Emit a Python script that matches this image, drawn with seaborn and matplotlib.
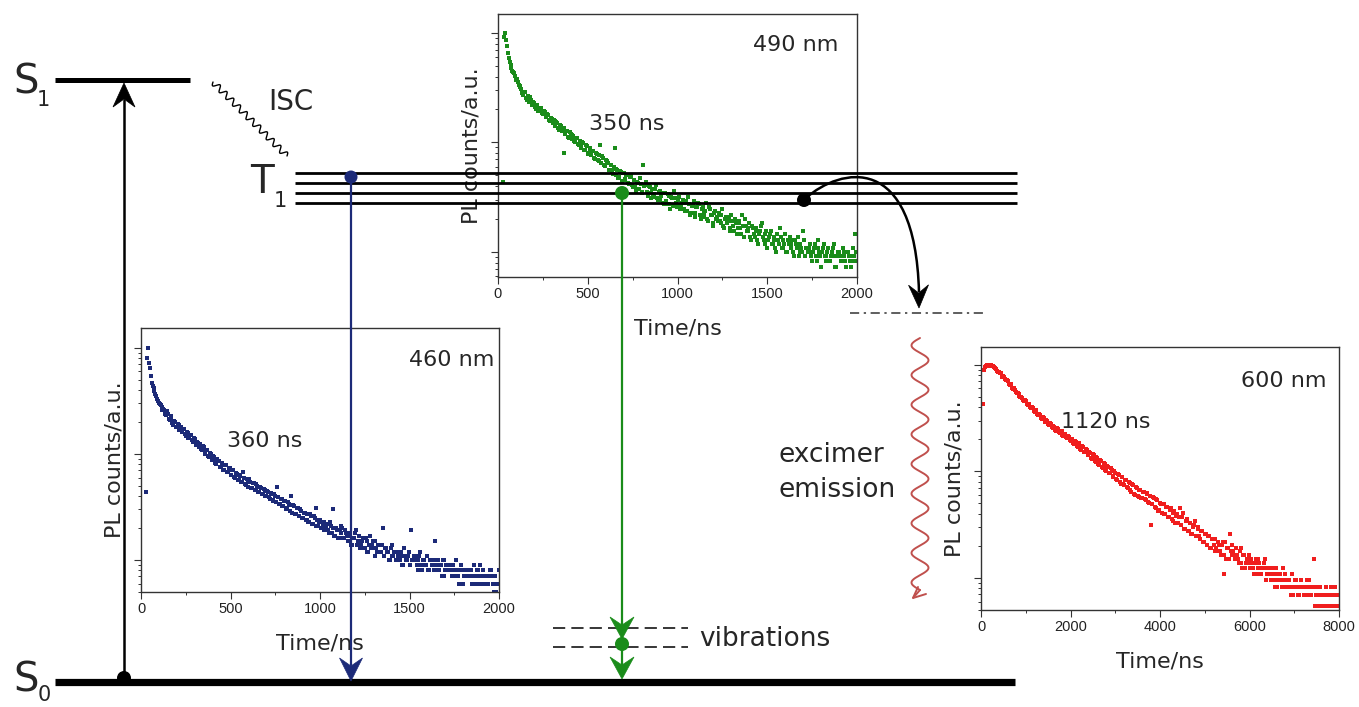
import numpy as np
import pandas as pd
import matplotlib
matplotlib.use("Agg")
import matplotlib.pyplot as plt
import seaborn as sns
from matplotlib.ticker import MultipleLocator, LogLocator, NullFormatter, FixedLocator
from matplotlib.patches import Circle, Polygon, PathPatch
from matplotlib.path import Path

# ─────────────────────────────────────────────
# Data (photon counts per channel)
# two interleaved channel sets per curve
# ─────────────────────────────────────────────
time_short = [
    30, 40, 50, 60, 70, 80, 90, 100, 110, 120,
    130, 140, 150, 160, 170, 180, 190, 200, 210, 220,
    230, 240, 250, 260, 270, 280, 290, 300, 310, 320,
    330, 340, 350, 360, 370, 380, 390, 400, 410, 420,
    430, 440, 450, 460, 470, 480, 490, 500, 510, 520,
    530, 540, 550, 560, 570, 580, 590, 600, 610, 620,
    630, 640, 650, 660, 670, 680, 690, 700, 710, 720,
    730, 740, 750, 760, 770, 780, 790, 800, 810, 820,
    830, 840, 850, 860, 870, 880, 890, 900, 910, 920,
    930, 940, 950, 960, 970, 980, 990, 1000, 1010, 1020,
    1030, 1040, 1050, 1060, 1070, 1080, 1090, 1100, 1110, 1120,
    1130, 1140, 1150, 1160, 1170, 1180, 1190, 1200, 1210, 1220,
    1230, 1240, 1250, 1260, 1270, 1280, 1290, 1300, 1310, 1320,
    1330, 1340, 1350, 1360, 1370, 1380, 1390, 1400, 1410, 1420,
    1430, 1440, 1450, 1460, 1470, 1480, 1490, 1500, 1510, 1520,
    1530, 1540, 1550, 1560, 1570, 1580, 1590, 1600, 1610, 1620,
    1630, 1640, 1650, 1660, 1670, 1680, 1690, 1700, 1710, 1720,
    1730, 1740, 1750, 1760, 1770, 1780, 1790, 1800, 1810, 1820,
    1830, 1840, 1850, 1860, 1870, 1880, 1890, 1900, 1910, 1920,
    1930, 1940, 1950, 1960, 1970, 1980, 1990, 2000,
]

time_short_b = [
    35, 45, 55, 65, 75, 85, 95, 105, 115, 125,
    135, 145, 155, 165, 175, 185, 195, 205, 215, 225,
    235, 245, 255, 265, 275, 285, 295, 305, 315, 325,
    335, 345, 355, 365, 375, 385, 395, 405, 415, 425,
    435, 445, 455, 465, 475, 485, 495, 505, 515, 525,
    535, 545, 555, 565, 575, 585, 595, 605, 615, 625,
    635, 645, 655, 665, 675, 685, 695, 705, 715, 725,
    735, 745, 755, 765, 775, 785, 795, 805, 815, 825,
    835, 845, 855, 865, 875, 885, 895, 905, 915, 925,
    935, 945, 955, 965, 975, 985, 995, 1005, 1015, 1025,
    1035, 1045, 1055, 1065, 1075, 1085, 1095, 1105, 1115, 1125,
    1135, 1145, 1155, 1165, 1175, 1185, 1195, 1205, 1215, 1225,
    1235, 1245, 1255, 1265, 1275, 1285, 1295, 1305, 1315, 1325,
    1335, 1345, 1355, 1365, 1375, 1385, 1395, 1405, 1415, 1425,
    1435, 1445, 1455, 1465, 1475, 1485, 1495, 1505, 1515, 1525,
    1535, 1545, 1555, 1565, 1575, 1585, 1595, 1605, 1615, 1625,
    1635, 1645, 1655, 1665, 1675, 1685, 1695, 1705, 1715, 1725,
    1735, 1745, 1755, 1765, 1775, 1785, 1795, 1805, 1815, 1825,
    1835, 1845, 1855, 1865, 1875, 1885, 1895, 1905, 1915, 1925,
    1935, 1945, 1955, 1965, 1975, 1985, 1995,
]

counts_490 = [
    48, 1100, 830, 650, 560, 490, 470, 410, 395, 360,
    340, 300, 318, 270, 262, 285, 240, 250, 222, 236,
    212, 228, 198, 210, 186, 195, 172, 181, 176, 155,
    165, 142, 156, 150, 89, 140, 124, 136, 118, 127,
    110, 122, 104, 98, 112, 94, 104, 86, 97, 84,
    92, 78, 86, 74, 104, 82, 68, 76, 71, 61,
    69, 57, 98, 63, 52, 60, 49, 58, 51, 55,
    46, 54, 43, 50, 40, 47, 52, 38, 68, 45,
    39, 44, 34, 41, 37, 45, 33, 40, 36, 31,
    38, 30, 36, 27, 34, 40, 31, 29, 35, 28,
    33, 26, 31, 35, 24, 29, 32, 25, 28, 30,
    22, 28, 25, 31, 21, 27, 24, 19, 26, 23,
    25, 20, 27, 18, 23, 21, 17, 24, 19, 22,
    16, 21, 18, 24, 15, 19, 17, 20, 14, 18,
    15, 18, 13, 17, 20, 14, 16, 12, 15, 17,
    13, 15, 11, 14, 18, 12, 14, 16, 11, 13,
    12, 14, 10, 13, 15, 11, 12, 17, 10, 12,
    11, 13, 9, 12, 10, 14, 11, 8, 12, 10,
    10, 12, 9, 11, 13, 8, 10, 11, 9, 12,
    10, 8, 11, 9, 10, 12, 16, 9,
]

counts_490_b = [
    1020, 940, 720, 600, 530, 480, 445, 415, 370, 352,
    312, 318, 281, 290, 255, 266, 257, 232, 240, 215,
    224, 205, 213, 190, 198, 178, 185, 166, 172, 168,
    149, 158, 139, 148, 131, 141, 122, 132, 129, 114,
    121, 106, 114, 100, 108, 93, 101, 88, 96, 92,
    80, 89, 76, 84, 72, 79, 67, 75, 71, 62,
    60, 66, 56, 62, 53, 59, 58, 50, 56, 47,
    53, 45, 50, 43, 48, 41, 46, 39, 44, 48,
    36, 43, 38, 35, 41, 34, 39, 33, 38, 30,
    32, 37, 30, 35, 29, 34, 28, 33, 27, 31,
    27, 32, 26, 30, 25, 29, 23, 28, 31, 24,
    27, 23, 26, 22, 28, 24, 20, 25, 22, 21,
    21, 24, 19, 22, 20, 23, 18, 21, 17, 20,
    18, 20, 16, 19, 22, 17, 18, 15, 19, 16,
    17, 14, 16, 19, 15, 13, 17, 14, 16, 13,
    14, 12, 16, 13, 15, 12, 13, 11, 14, 15,
    13, 11, 14, 12, 10, 13, 11, 14, 12, 11,
    12, 10, 11, 13, 9, 12, 10, 11, 13, 9,
    11, 9, 10, 12, 10, 8, 11, 10, 9, 11,
    9, 11, 10, 8, 9, 10, 11,
]

counts_460 = [
    44, 1000, 640, 470, 420, 365, 330, 300, 290, 262,
    262, 231, 240, 208, 214, 188, 199, 178, 186, 168,
    160, 171, 149, 158, 140, 152, 131, 138, 121, 128,
    124, 108, 117, 100, 108, 93, 99, 87, 94, 81,
    86, 75, 83, 71, 79, 68, 74, 64, 70, 61,
    66, 57, 63, 55, 67, 52, 58, 49, 55, 48,
    53, 46, 50, 44, 48, 42, 46, 40, 44, 38,
    42, 36, 40, 49, 34, 38, 32, 36, 30, 35,
    29, 40, 33, 27, 31, 26, 30, 25, 28, 24,
    27, 23, 26, 22, 25, 31, 21, 24, 20, 23,
    19, 22, 18, 21, 30, 17, 20, 16, 19, 21,
    16, 19, 17, 15, 18, 14, 16, 19, 15, 17,
    14, 16, 13, 15, 12, 17, 14, 13, 15, 12,
    14, 12, 20, 11, 13, 12, 10, 14, 11, 12,
    10, 12, 11, 9, 13, 10, 11, 9, 19, 10,
    11, 9, 10, 12, 8, 10, 9, 11, 8, 10,
    9, 15, 8, 10, 9, 7, 10, 8, 9, 8,
    9, 7, 8, 10, 7, 8, 9, 6, 8, 7,
    7, 8, 6, 9, 7, 8, 6, 7, 8, 6,
    7, 6, 8, 7, 5, 7, 6, 8,
]

counts_460_b = [
    800, 720, 540, 440, 390, 350, 318, 296, 275, 268,
    240, 252, 215, 226, 196, 205, 180, 192, 170, 178,
    171, 154, 160, 143, 151, 134, 141, 124, 131, 116,
    111, 118, 101, 109, 95, 102, 88, 96, 82, 89,
    85, 76, 82, 71, 78, 67, 74, 63, 70, 60,
    65, 57, 62, 54, 59, 51, 56, 58, 48, 53,
    46, 52, 44, 49, 42, 47, 40, 45, 39, 43,
    37, 42, 35, 39, 34, 38, 32, 36, 31, 34,
    33, 28, 32, 27, 31, 26, 29, 25, 28, 24,
    23, 27, 22, 26, 21, 24, 23, 20, 22, 19,
    21, 19, 23, 18, 20, 17, 19, 16, 18, 20,
    16, 18, 15, 17, 14, 16, 18, 14, 15, 13,
    15, 13, 16, 12, 14, 13, 15, 11, 13, 14,
    12, 14, 11, 13, 12, 10, 13, 11, 12, 10,
    11, 10, 12, 9, 11, 10, 12, 9, 10, 11,
    10, 8, 11, 9, 10, 9, 11, 8, 10, 9,
    8, 10, 9, 8, 9, 10, 7, 9, 8, 9,
    8, 9, 7, 8, 6, 9, 8, 7, 8, 7,
    7, 8, 7, 6, 8, 7, 9, 6, 7, 7,
    6, 7, 8, 6, 7, 5, 6,
]

time_long = [
    40, 80, 120, 160, 200, 240, 280, 320, 360, 400,
    440, 480, 520, 560, 600, 640, 680, 720, 760, 800,
    840, 880, 920, 960, 1000, 1040, 1080, 1120, 1160, 1200,
    1240, 1280, 1320, 1360, 1400, 1440, 1480, 1520, 1560, 1600,
    1640, 1680, 1720, 1760, 1800, 1840, 1880, 1920, 1960, 2000,
    2040, 2080, 2120, 2160, 2200, 2240, 2280, 2320, 2360, 2400,
    2440, 2480, 2520, 2560, 2600, 2640, 2680, 2720, 2760, 2800,
    2840, 2880, 2920, 2960, 3000, 3040, 3080, 3120, 3160, 3200,
    3240, 3280, 3320, 3360, 3400, 3440, 3480, 3520, 3560, 3600,
    3640, 3680, 3720, 3760, 3800, 3840, 3880, 3920, 3960, 4000,
    4040, 4080, 4120, 4160, 4200, 4240, 4280, 4320, 4360, 4400,
    4440, 4480, 4520, 4560, 4600, 4640, 4680, 4720, 4760, 4800,
    4840, 4880, 4920, 4960, 5000, 5040, 5080, 5120, 5160, 5200,
    5240, 5280, 5320, 5360, 5400, 5440, 5480, 5520, 5560, 5600,
    5640, 5680, 5720, 5760, 5800, 5840, 5880, 5920, 5960, 6000,
    6040, 6080, 6120, 6160, 6200, 6240, 6280, 6320, 6360, 6400,
    6440, 6480, 6520, 6560, 6600, 6640, 6680, 6720, 6760, 6800,
    6840, 6880, 6920, 6960, 7000, 7040, 7080, 7120, 7160, 7200,
    7240, 7280, 7320, 7360, 7400, 7440, 7480, 7520, 7560, 7600,
    7640, 7680, 7720, 7760, 7800, 7840, 7880, 7920, 7960, 8000,
]

time_long_b = [
    60, 100, 140, 180, 220, 260, 300, 340, 380, 420,
    460, 500, 540, 580, 620, 660, 700, 740, 780, 820,
    860, 900, 940, 980, 1020, 1060, 1100, 1140, 1180, 1220,
    1260, 1300, 1340, 1380, 1420, 1460, 1500, 1540, 1580, 1620,
    1660, 1700, 1740, 1780, 1820, 1860, 1900, 1940, 1980, 2020,
    2060, 2100, 2140, 2180, 2220, 2260, 2300, 2340, 2380, 2420,
    2460, 2500, 2540, 2580, 2620, 2660, 2700, 2740, 2780, 2820,
    2860, 2900, 2940, 2980, 3020, 3060, 3100, 3140, 3180, 3220,
    3260, 3300, 3340, 3380, 3420, 3460, 3500, 3540, 3580, 3620,
    3660, 3700, 3740, 3780, 3820, 3860, 3900, 3940, 3980, 4020,
    4060, 4100, 4140, 4180, 4220, 4260, 4300, 4340, 4380, 4420,
    4460, 4500, 4540, 4580, 4620, 4660, 4700, 4740, 4780, 4820,
    4860, 4900, 4940, 4980, 5020, 5060, 5100, 5140, 5180, 5220,
    5260, 5300, 5340, 5380, 5420, 5460, 5500, 5540, 5580, 5620,
    5660, 5700, 5740, 5780, 5820, 5860, 5900, 5940, 5980, 6020,
    6060, 6100, 6140, 6180, 6220, 6260, 6300, 6340, 6380, 6420,
    6460, 6500, 6540, 6580, 6620, 6660, 6700, 6740, 6780, 6820,
    6860, 6900, 6940, 6980, 7020, 7060, 7100, 7140, 7180, 7220,
    7260, 7300, 7340, 7380, 7420, 7460, 7500, 7540, 7580, 7620,
    7660, 7700, 7740, 7780, 7820, 7860, 7900, 7940, 7980,
]

counts_600 = [
    310, 690, 715, 722, 735, 712, 700, 684, 642, 628,
    606, 565, 560, 522, 512, 476, 468, 432, 426, 395,
    392, 362, 360, 333, 331, 306, 310, 285, 289, 266,
    268, 246, 249, 228, 231, 212, 217, 199, 203, 187,
    191, 176, 182, 166, 173, 157, 163, 149, 154, 141,
    146, 132, 139, 124, 131, 117, 123, 110, 116, 103,
    109, 96, 103, 90, 97, 84, 91, 78, 86, 74,
    80, 70, 75, 64, 71, 60, 68, 56, 64, 54,
    60, 51, 57, 47, 54, 44, 51, 42, 49, 41,
    47, 39, 45, 37, 23, 42, 34, 40, 31, 37,
    30, 36, 29, 34, 27, 33, 25, 31, 28, 24,
    33, 23, 30, 21, 26, 20, 24, 19, 23, 18,
    22, 18, 20, 16, 19, 15, 18, 14, 17, 15,
    17, 13, 15, 12, 16, 8, 11, 14, 19, 15,
    13, 11, 12, 10, 14, 9, 12, 10, 11, 9,
    11, 9, 10, 8, 11, 8, 9, 10, 7, 9,
    9, 7, 8, 6, 9, 7, 8, 6, 7, 8,
    6, 7, 5, 8, 6, 7, 5, 6, 7, 6,
    5, 7, 6, 5, 6, 11, 5, 6, 4, 5,
    5, 4, 6, 5, 4, 5, 4, 6, 5, 4,
]

counts_600_b = [
    655, 698, 726, 718, 730, 716, 690, 672, 630, 615,
    578, 570, 535, 524, 487, 478, 444, 438, 404, 398,
    371, 368, 341, 339, 314, 313, 292, 293, 272, 274,
    252, 253, 233, 235, 216, 220, 203, 206, 191, 194,
    180, 186, 170, 175, 160, 165, 152, 157, 144, 148,
    135, 141, 127, 134, 119, 126, 112, 119, 105, 111,
    98, 106, 92, 99, 86, 93, 80, 88, 76, 82,
    71, 78, 66, 73, 62, 69, 58, 65, 55, 61,
    52, 58, 49, 55, 45, 52, 43, 49, 41, 47,
    40, 46, 38, 43, 36, 41, 33, 39, 32, 36,
    36, 29, 34, 27, 32, 26, 30, 24, 29, 27,
    23, 27, 21, 25, 20, 24, 19, 22, 25, 18,
    21, 17, 20, 16, 19, 15, 18, 14, 17, 13,
    14, 16, 13, 15, 12, 16, 14, 11, 13, 12,
    12, 14, 11, 13, 10, 12, 9, 11, 12, 10,
    10, 8, 11, 9, 10, 8, 9, 11, 8, 9,
    8, 9, 7, 8, 6, 8, 7, 9, 6, 7,
    7, 6, 8, 5, 7, 6, 5, 7, 6, 5,
    6, 5, 7, 5, 6, 4, 6, 5, 6, 4,
    5, 6, 4, 5, 6, 4, 5, 4, 5,
]

peak_460, peak_490, peak_600 = 1000, 1100, 730
wavelengths = ["460 nm", "490 nm", "600 nm"]
lifetimes = ["360 ns", "350 ns", "1120 ns"]
xticks_short = [0, 500, 1000, 1500, 2000]
xticks_long = [0, 2000, 4000, 6000, 8000]

# ─────────────────────────────────────────────
# Style
# ─────────────────────────────────────────────
W, H = 1359, 707
BLUE = "#1c2a78"
GREEN = "#1a8c1a"
RED = "#f01e1e"
WAVE_RED = "#c0504d"
FRAME = "#333333"

sns.set_style("white")
plt.rcParams["font.family"] = ["DejaVu Sans"]
TICK_FONT = "Liberation Sans"

fig = plt.figure(figsize=(W / 100, H / 100), dpi=100)


def inset(left, top, right, bottom):
    return fig.add_axes([left / W, 1 - bottom / H, (right - left) / W, (bottom - top) / H])


def decay_panel(ax, times, counts, peak, color, xticks, xminor, ylim,
                label, tau, label_xy, tau_xy):
    df = pd.concat([pd.DataFrame({"t": t, "pl": np.array(c) / peak})
                    for t, c in zip(times, counts)], ignore_index=True)
    sns.scatterplot(data=df, x="t", y="pl", ax=ax, marker="s", s=5,
                    color=color, linewidth=0, legend=False)
    ax.set_yscale("log")
    ax.set_xlim(xticks[0], xticks[-1])
    ax.set_ylim(*ylim)
    ax.xaxis.set_major_locator(FixedLocator(xticks))
    ax.xaxis.set_minor_locator(MultipleLocator(xminor))
    ax.yaxis.set_major_locator(FixedLocator([0.01, 0.1, 1.0]))
    ax.yaxis.set_minor_locator(LogLocator(base=10, subs=np.arange(2, 10)))
    ax.yaxis.set_major_formatter(NullFormatter())
    ax.yaxis.set_minor_formatter(NullFormatter())
    ax.tick_params(axis="both", which="major", direction="out", length=5,
                   width=0.8, color=FRAME, pad=2)
    ax.tick_params(axis="both", which="minor", direction="out", length=2.5,
                   width=0.7, color=FRAME)
    ax.tick_params(left=True, bottom=True, top=False, right=False)
    ax.tick_params(axis="y", which="minor", left=True)
    ax.tick_params(axis="x", which="minor", bottom=True)
    for lab in ax.get_xticklabels():
        lab.set_fontfamily(TICK_FONT)
        lab.set_fontsize(10.5)
        lab.set_color("#222222")
    for sp in ax.spines.values():
        sp.set_visible(True)
        sp.set_color(FRAME)
        sp.set_linewidth(1.0)
    ax.set_xlabel("Time/ns", fontsize=16)
    ax.set_ylabel("PL counts/a.u.", fontsize=16)
    ax.xaxis.set_label_coords(0.5, -0.157)
    ax.yaxis.set_label_coords(-0.045, 0.5)
    ax.text(label_xy[0], label_xy[1], label, transform=ax.transAxes,
            ha="right", va="center", fontsize=16)
    ax.text(tau_xy[0], tau_xy[1], tau, transform=ax.transAxes,
            ha="center", va="center", fontsize=16)


ax_blue = inset(141, 328, 499, 592)
decay_panel(ax_blue, [time_short, time_short_b], [counts_460, counts_460_b], peak_460,
            BLUE, xticks_short, 250, (0.005, 1.54),
            wavelengths[0], lifetimes[0], (0.986, 0.879), (0.346, 0.572))

ax_green = inset(498, 14, 857, 277)
decay_panel(ax_green, [time_short, time_short_b], [counts_490, counts_490_b], peak_490,
            GREEN, xticks_short, 250, (0.0059, 1.49),
            wavelengths[1], lifetimes[1], (0.947, 0.882), (0.359, 0.582))

ax_red = inset(981, 347, 1339, 610)
decay_panel(ax_red, [time_long, time_long_b], [counts_600, counts_600_b], peak_600,
            RED, xticks_long, 1000, (0.005, 1.47),
            wavelengths[2], lifetimes[2], (0.966, 0.871), (0.349, 0.715))

# ─────────────────────────────────────────────
# Energy diagram overlay (pixel coordinates)
# ─────────────────────────────────────────────
ov = fig.add_axes([0, 0, 1, 1])
ov.set_zorder(10)
ov.patch.set_visible(False)
ov.set_xlim(0, W)
ov.set_ylim(H, 0)
ov.axis("off")


def head(tip, direction, color, length=23, width=23, notch=8):
    d = np.array(direction, float)
    d /= np.linalg.norm(d)
    n = np.array([-d[1], d[0]])
    tip = np.array(tip, float)
    base = tip - d * length
    pts = [tip, base + n * width / 2, tip - d * (length - notch), base - n * width / 2]
    ov.add_patch(Polygon(pts, closed=True, facecolor=color, edgecolor=color, lw=0.5, zorder=6))


def dot(xy, r, color):
    ov.add_patch(Circle(xy, r, facecolor=color, edgecolor="none", zorder=7))


def wavy(p0, p1, amp, cycles, color, lw):
    p0, p1 = np.array(p0, float), np.array(p1, float)
    s = np.linspace(0, 1, 600)
    d = p1 - p0
    n = np.array([-d[1], d[0]]) / np.linalg.norm(d)
    pts = p0[None, :] + s[:, None] * d[None, :] + (amp * np.sin(2 * np.pi * cycles * s))[:, None] * n[None, :]
    ov.plot(pts[:, 0], pts[:, 1], color=color, lw=lw, solid_capstyle="round")


# singlet levels
ov.plot([55, 190], [80, 80], color="k", lw=3.6, solid_capstyle="butt")
ov.plot([55, 1015], [682, 682], color="k", lw=5.2, solid_capstyle="butt")
ov.text(13, 83, "S", fontsize=29, ha="left", va="center")
ov.text(37, 100, "1", fontsize=15, ha="left", va="center")
ov.text(13, 681, "S", fontsize=29, ha="left", va="center")
ov.text(38, 695, "0", fontsize=15, ha="left", va="center")

# excitation
ov.plot([124, 124], [678, 100], color="k", lw=1.8)
head((124, 83), (0, -1), "k", length=24, width=22, notch=8)
dot((124, 678), 7, "k")

# ISC
wavy((213, 82), (287, 156), 3.0, 11, "k", 1.0)
ov.text(291, 102, "ISC", fontsize=20, ha="center", va="center")

# triplet manifold
for yy in [173, 183, 193, 203]:
    ov.plot([295, 1017], [yy, yy], color="k", lw=2.0, solid_capstyle="butt")
ov.text(250, 182, "T", fontsize=28, ha="left", va="center")
ov.text(274, 201, "1", fontsize=15, ha="left", va="center")

# 460 nm phosphorescence
ov.plot([351, 351], [177, 665], color=BLUE, lw=1.6)
head((351, 681), (0, 1), BLUE, length=23, width=23, notch=8)
dot((351, 177), 6.5, BLUE)

# 490 nm phosphorescence through vibrational levels
ov.plot([622, 622], [193, 668], color=GREEN, lw=1.6)
head((622, 639), (0, 1), GREEN, length=22, width=24, notch=8)
head((622, 679), (0, 1), GREEN, length=22, width=24, notch=8)
dot((622, 193), 7, GREEN)
dot((622, 644), 7, GREEN)
for yy in [628, 647]:
    ov.plot([553, 688], [yy, yy], color="k", lw=1.1, ls=(0, (8, 4)))
ov.text(699, 639, "vibrations", fontsize=19, ha="left", va="center")

# excimer formation
dot((804, 200), 7, "k")
curve = Path([(806, 198), (840, 168), (915, 150), (919, 292)],
             [Path.MOVETO, Path.CURVE4, Path.CURVE4, Path.CURVE4])
ov.add_patch(PathPatch(curve, facecolor="none", edgecolor="k", lw=1.8))
head((919, 308), (0.02, 1), "k", length=23, width=20, notch=8)
ov.plot([850, 985], [313, 313], color=FRAME, lw=1.1, ls=(0, (6, 3, 1.5, 3)))

# excimer emission
wavy((920, 338), (920, 590), 8.5, 8.5, WAVE_RED, 1.4)
ov.plot([920, 913], [590, 598], color=WAVE_RED, lw=1.4, solid_capstyle="round")
ov.plot([918, 913, 926], [587, 598, 594], color=WAVE_RED, lw=1.4,
        solid_capstyle="round", solid_joinstyle="miter")
ov.text(778, 455, "excimer", fontsize=19, ha="left", va="center")
ov.text(778, 490, "emission", fontsize=19, ha="left", va="center")

fig.savefig("out.png", dpi=100)
